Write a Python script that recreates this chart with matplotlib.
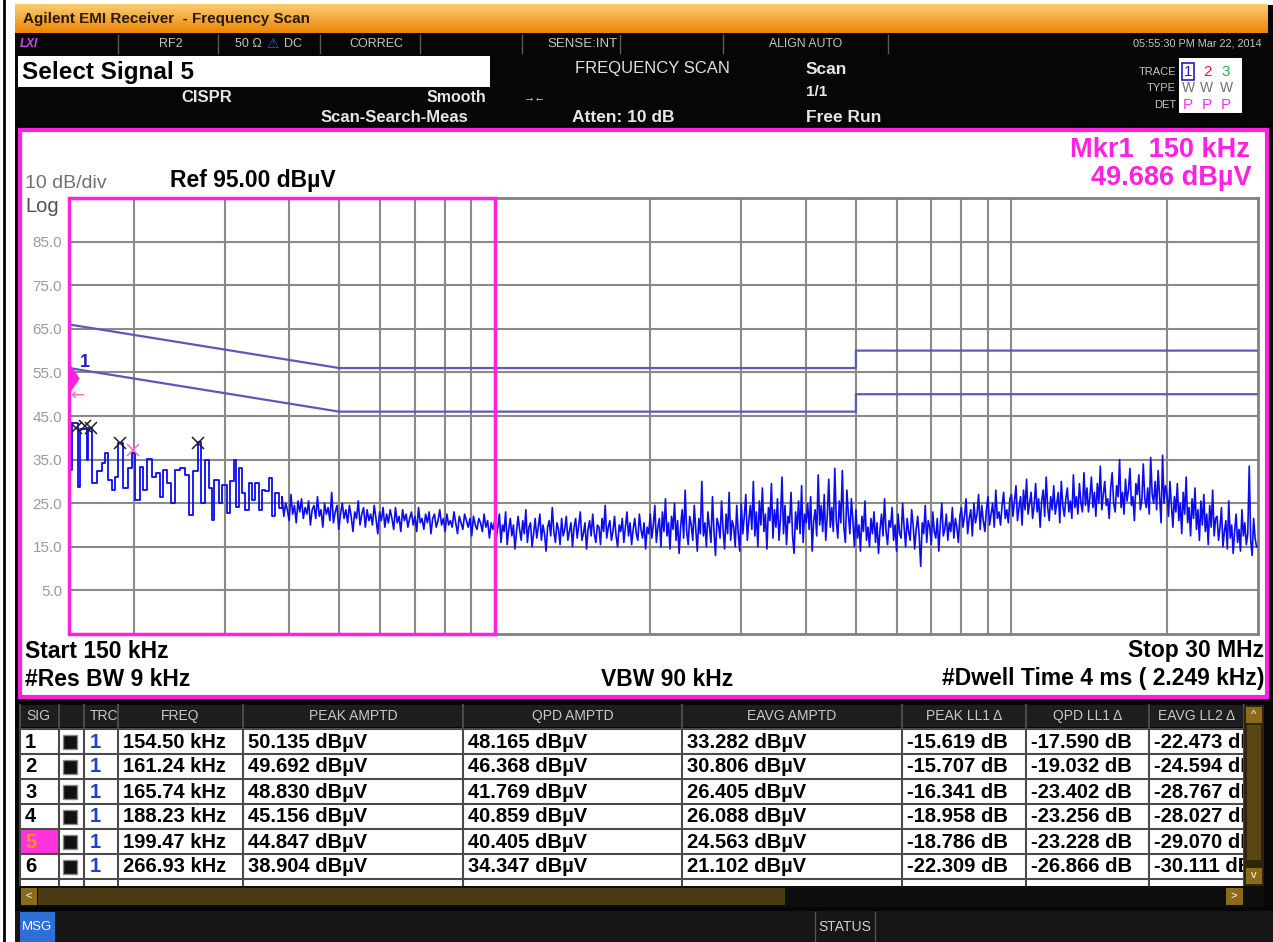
import numpy as np
import matplotlib.pyplot as plt
from matplotlib.patches import Rectangle
from matplotlib.ticker import FixedLocator, NullLocator, NullFormatter

plt.rcParams['font.family'] = ['Liberation Sans', 'DejaVu Sans']

# ---- sweep / display settings ----
start_mhz = 0.15
stop_mhz = 30.0
ref_dbuv = 95.0
bottom_dbuv = -5.0
y_tick_values = [85, 75, 65, 55, 45, 35, 25, 15, 5]
x_grid_mhz = [0.2, 0.3, 0.4, 0.5, 0.6, 0.7, 0.8, 0.9, 1, 2, 3, 4, 5, 6, 7, 8, 9, 10, 20]
zoom_box_mhz = [0.15, 1.0]

# CISPR 22 class B limit lines (QP and average)
limit_mhz = [0.15, 0.5, 5.0, 5.0, 30.0]
qp_limit_dbuv = [66, 56, 56, 60, 60]
avg_limit_dbuv = [56, 46, 46, 50, 50]

# trace 1, low band steps
lf_khz = [150.0, 150.7, 151.8, 156.3, 157.5, 162.2, 163.4, 166.0, 169.7, 173.6,
          176.1, 178.8, 181.5, 184.2, 186.9, 191.1, 195.5, 198.4, 201.4, 206.0,
          209.0, 212.2, 217.5, 220.9, 225.1, 228.5, 232.0, 236.5, 240.7, 246.2,
          251.7, 255.5, 260.5, 266.4, 270.4, 275.2, 279.3, 283.6, 285.6, 292.1,
          296.5, 303.2, 307.7, 312.3, 315.6, 319.3, 324.2, 329.0, 333.9, 339.1,
          344.1, 349.2, 354.5, 359.8, 365.1, 370.7, 376.2, 381.8]
lf_dbuv = [49.7, 32.6, 43.3, 28.8, 42.0, 35.0, 42.2, 29.6, 32.3, 34.2,
           36.5, 30.3, 28.0, 31.1, 38.8, 28.4, 33.0, 36.5, 25.8, 33.4,
           28.0, 35.1, 31.1, 31.9, 26.5, 32.6, 29.6, 25.0, 32.6, 33.0,
           31.5, 22.3, 32.3, 39.1, 25.0, 35.0, 28.4, 21.2, 30.3, 25.0,
           29.2, 22.7, 30.0, 35.0, 24.2, 33.0, 27.3, 23.5, 29.6, 25.8,
           29.6, 23.5, 28.0, 27.7, 30.7, 22.0, 27.3, 24.0]

# trace 1, dense part: one list per frequency band (values left to right)
band_edges_mhz = [0.3876, 1.0, 2.0, 3.0, 5.0, 8.0, 10.0, 14.0, 20.0, 25.0, 30.0]
band_0388_1 = [26.5, 22.0, 25.0, 23.5, 21.0, 27.0, 22.5, 24.5, 20.5, 25.5,
               23.0, 26.0, 21.5, 24.0, 22.5, 25.5, 20.0, 23.5, 24.5, 21.5,
               26.5, 22.0, 23.5, 19.5, 25.0, 22.5, 24.0, 21.0, 27.5, 20.5,
               23.0, 24.5, 19.0, 22.5, 25.0, 21.5, 23.5, 20.5, 24.5, 22.0,
               18.5, 23.0, 21.5, 25.5, 20.0, 22.5, 24.0, 19.5, 23.5, 21.0,
               22.5, 20.0, 24.5, 21.5, 18.0, 23.0, 21.0, 24.0, 19.5, 22.5,
               20.5, 23.5, 21.5, 19.0, 24.0, 20.5, 22.0, 18.5, 23.5, 21.0,
               22.5, 19.5, 21.5, 23.0, 20.0, 22.0, 18.5, 24.0, 20.5, 21.5,
               19.0, 22.5, 20.5, 23.0, 18.0, 21.5, 22.5, 19.5, 21.0, 23.5,
               20.0, 21.5, 18.5, 22.5, 20.0, 21.0, 19.5, 23.0, 20.5, 18.0,
               22.0, 20.5, 19.0, 22.5, 21.0, 19.5, 21.5, 17.5, 22.0, 20.0,
               19.0, 21.5, 20.5, 18.5, 22.5, 19.5, 21.0, 17.0, 20.5, 19.0]
band_1_2 = [21.0, 17.0, 19.5, 22.5, 16.0, 20.0, 18.5, 23.0, 15.5, 19.0,
            21.5, 17.5, 20.0, 14.5, 18.5, 22.0, 19.0, 16.5, 21.0, 18.0,
            23.5, 16.0, 19.5, 20.5, 15.0, 18.0, 21.5, 17.0, 19.5, 22.5,
            16.5, 20.0, 18.0, 14.0, 19.5, 21.0, 17.5, 24.0, 18.5, 16.0,
            20.5, 19.0, 15.5, 21.5, 17.5, 19.0, 22.0, 16.5, 18.5, 20.5,
            15.0, 19.5, 21.5, 17.0, 20.0, 23.0, 16.5, 18.0, 20.5, 14.5,
            19.0, 21.0, 17.5, 22.5, 18.0, 16.0, 20.0, 19.5, 15.5, 21.5,
            18.5, 24.5, 17.0, 19.5, 21.0, 16.5, 18.5, 22.0, 17.5, 15.0,
            20.0, 18.5, 21.5, 16.0, 19.5, 23.0, 17.5, 20.5, 15.5, 19.0,
            21.5, 18.0, 16.5, 22.5, 19.0, 17.0, 20.5, 14.5, 19.5, 18.0]
band_2_3 = [22.5, 17.0, 20.0, 24.5, 16.0, 19.5, 21.5, 15.0, 23.0, 18.5,
            26.0, 17.5, 20.5, 14.5, 22.0, 19.0, 25.0, 16.5, 21.0, 13.5,
            19.5, 23.5, 17.0, 28.0, 18.5, 15.5, 22.0, 20.0, 16.5, 24.5,
            19.0, 14.0, 21.5, 18.0, 30.0, 17.5, 20.5, 15.0, 23.0, 19.5,
            16.0, 26.5, 18.5, 13.0, 21.5, 20.0, 17.0, 25.5, 19.0, 14.5,
            22.5, 18.0, 27.5, 16.5, 21.0, 19.5, 15.0, 24.5, 18.0, 14.0]
band_3_5 = [25.0, 18.0, 22.0, 27.0, 16.5, 21.0, 24.5, 19.0, 30.0, 17.5,
            23.0, 15.0, 25.5, 20.0, 28.5, 18.5, 22.5, 14.5, 24.0, 21.0,
            29.5, 17.0, 23.5, 19.5, 26.0, 16.5, 21.5, 31.0, 18.0, 24.5,
            15.5, 22.0, 20.5, 27.5, 17.5, 13.5, 23.0, 19.0, 25.5, 18.0,
            29.0, 16.0, 22.5, 20.5, 25.0, 19.0, 26.5, 14.0, 21.0, 23.5,
            17.5, 31.5, 20.0, 24.5, 18.5, 27.0, 16.5, 22.0, 30.5, 19.5,
            24.0, 18.5, 33.0, 21.0, 17.0, 25.5, 20.5, 32.5, 19.5, 16.0,
            28.0, 22.5, 18.0, 26.0, 21.0, 15.0]
band_5_8 = [23.5, 17.0, 20.0, 14.0, 22.0, 18.5, 25.5, 16.5, 19.5, 15.0,
            21.5, 18.0, 23.0, 16.0, 20.5, 13.5, 19.0, 22.5, 17.5, 26.0,
            18.5, 15.5, 21.0, 19.5, 24.0, 16.5, 20.0, 14.0, 22.5, 18.0,
            17.0, 25.0, 19.5, 15.0, 21.5, 18.5, 16.5, 23.5, 20.0, 14.5,
            19.0, 22.0, 17.5, 10.5, 20.5, 18.0, 24.5, 16.0, 21.0, 19.5,
            15.5, 23.0, 18.5, 17.0, 21.5, 14.0, 20.0, 25.0, 17.5, 19.0,
            22.5, 16.5, 20.5, 18.5, 24.0, 17.0, 21.5, 19.5, 16.0, 22.0]
band_8_10 = [24.0, 19.5, 22.0, 26.0, 18.0, 21.5, 23.5, 17.5, 25.0, 20.5,
             22.5, 27.0, 19.0, 24.5, 21.0, 18.5, 23.5, 26.5, 20.0, 22.5,
             25.0, 19.5, 28.0, 21.5, 23.0, 20.0, 24.5, 27.5, 21.5, 23.5,
             20.5, 26.0]
band_10_14 = [27.0, 22.0, 25.5, 29.0, 21.0, 24.0, 26.5, 20.0, 28.0, 23.5,
              30.5, 22.5, 25.0, 27.5, 21.5, 24.5, 29.5, 23.0, 26.0, 19.5,
              25.5, 28.0, 22.0, 31.0, 24.0, 21.0, 26.5, 23.5, 29.0, 22.5,
              25.0, 27.5, 20.5, 30.0, 24.5, 22.0, 26.0, 28.5, 23.0, 25.5,
              21.5, 31.5, 24.0, 26.5, 22.5, 29.5, 25.0, 23.0, 32.0, 24.5]
band_14_20 = [28.5, 23.0, 26.5, 31.0, 24.0, 27.5, 22.0, 29.5, 25.0, 33.5,
              23.5, 27.0, 30.0, 24.5, 26.0, 21.5, 28.5, 32.0, 25.0, 23.0,
              29.0, 26.5, 35.0, 24.0, 27.5, 22.5, 30.5, 25.5, 28.0, 33.0,
              24.5, 26.5, 21.0, 29.5, 27.0, 31.5, 23.5, 25.5, 34.0, 26.0,
              24.0, 28.5, 22.5, 35.5, 27.0, 25.0, 30.0, 23.5, 32.5, 26.5,
              20.5, 36.0, 25.0, 29.0]
band_20_25 = [27.0, 22.0, 30.0, 24.5, 19.5, 26.5, 23.0, 29.5, 21.0, 25.0,
              18.0, 27.5, 22.5, 31.0, 20.5, 24.0, 17.5, 26.0, 21.5, 28.5,
              19.0, 23.5, 16.5, 25.5, 20.0, 27.0, 18.5, 22.5, 15.5, 24.5,
              19.5, 28.0, 17.5, 21.5]
band_25_30 = [22.0, 16.5, 19.5, 24.0, 15.0, 18.5, 21.0, 14.5, 25.5, 17.0,
              20.0, 13.5, 18.5, 22.5, 16.0, 19.0, 14.0, 23.5, 17.5, 20.5,
              15.5, 18.0, 33.5, 16.5, 13.0, 21.5, 17.0, 15.0]

# marker / signal list
marker1_mhz = 0.15
marker1_dbuv = 49.686
sig_ids = ['1', '2', '3', '4', '5', '6']
sig_khz = [154.50, 161.24, 165.74, 188.23, 199.47, 266.93]
sig_on_trace_dbuv = [42.2, 42.7, 42.2, 38.8, 37.2, 38.8]
selected_sig = 5
freq_col = ['154.50 kHz', '161.24 kHz', '165.74 kHz', '188.23 kHz', '199.47 kHz', '266.93 kHz']
peak_col = ['50.135 dBµV', '49.692 dBµV', '48.830 dBµV', '45.156 dBµV', '44.847 dBµV', '38.904 dBµV']
qpd_col = ['48.165 dBµV', '46.368 dBµV', '41.769 dBµV', '40.859 dBµV', '40.405 dBµV', '34.347 dBµV']
eavg_col = ['33.282 dBµV', '30.806 dBµV', '26.405 dBµV', '26.088 dBµV', '24.563 dBµV', '21.102 dBµV']
peak_ll1_col = ['-15.619 dB', '-15.707 dB', '-16.341 dB', '-18.958 dB', '-18.786 dB', '-22.309 dB']
qpd_ll1_col = ['-17.590 dB', '-19.032 dB', '-23.402 dB', '-23.256 dB', '-23.228 dB', '-26.866 dB']
eavg_ll2_col = ['-22.473 dB', '-24.594 dB', '-28.767 dB', '-28.027 dB', '-29.070 dB', '-30.111 dB']
header_labels = ['SIG', '', 'TRC', 'FREQ', 'PEAK AMPTD', 'QPD AMPTD', 'EAVG AMPTD',
                 'PEAK LL1 Δ', 'QPD LL1 Δ', 'EAVG LL2 Δ']

W, H = 1273, 942
fig = plt.figure(figsize=(W / 100, H / 100), dpi=100)
fig.patch.set_facecolor('white')

# background axes in pixel units for the instrument frame
bg = fig.add_axes([0, 0, 1, 1])
bg.set_xlim(0, W)
bg.set_ylim(H, 0)
bg.axis('off')


def box(x0, y0, x1, y1, fc, ec='none', lw=0, z=1):
    bg.add_patch(Rectangle((x0, y0), x1 - x0, y1 - y0, facecolor=fc,
                           edgecolor=ec, lw=lw, zorder=z))


def txt(x, y, s, size, color, ha='left', weight='normal', z=3, **kw):
    bg.text(x, y, s, fontsize=size, color=color, ha=ha, va='center',
            fontweight=weight, zorder=z, **kw)


bg.plot([4, 4], [0, H], color='black', lw=2)
box(15, 5, W, H, '#060606')

# title bar with orange gradient
grad = np.linspace(0, 1, 40)[:, None]
top_c = np.array([0.98, 0.80, 0.45])
bot_c = np.array([0.93, 0.52, 0.02])
img = (top_c * (1 - grad) + bot_c * grad)[:, None, :].repeat(2, axis=1)
bg.imshow(img, extent=(15, 1268, 33, 4), aspect='auto', zorder=2)
txt(23, 19, 'Agilent EMI Receiver  - Frequency Scan', 11, '#2a1a05', weight='bold')

# status row
for sx in [118, 218, 320, 420, 522, 620, 723, 888]:
    bg.plot([sx, sx], [35, 53], color='#5a5a5a', lw=1, zorder=3)
txt(20, 44, 'LXI', 8.5, '#d040ff', weight='bold', style='italic')
gray = '#c4c4c4'
txt(171, 44, 'RF2', 9, gray, ha='center')
txt(235, 44, '50 Ω', 9, gray)
txt(266, 44, '⚠', 10, '#2f5bff')
txt(284, 44, 'DC', 9, gray)
txt(376, 44, 'CORREC', 9, gray, ha='center')
txt(582, 44, 'SENSE:INT', 9.5, gray, ha='center')
txt(806, 44, 'ALIGN AUTO', 8.8, gray, ha='center')
txt(1262, 44, '05:55:30 PM Mar 22, 2014', 7.8, gray, ha='right')

box(18, 56, 490, 87, 'white', z=2)
txt(22, 72, 'Select Signal 5', 17.5, 'black', weight='bold')
fg = '#e6e6e6'
txt(207, 97, 'CISPR', 12, fg, ha='center', weight='bold')
txt(486, 97, 'Smooth', 11.5, fg, ha='right', weight='bold')
txt(394, 118, 'Scan-Search-Meas', 12, fg, ha='center', weight='bold')
txt(535, 97, '→←', 8, fg, ha='center')
txt(652, 69, 'FREQUENCY SCAN', 12, '#e0e0e0', ha='center')
txt(572, 117, 'Atten: 10 dB', 12.5, fg, weight='bold')
txt(806, 69, 'Scan', 12.5, fg, weight='bold')
txt(806, 92, '1/1', 11, fg, weight='bold')
txt(806, 117, 'Free Run', 12.5, fg, weight='bold')

# trace legend box
box(1179, 58, 1242, 113, 'white', z=2)
txt(1176, 72, 'TRACE', 8, gray, ha='right')
txt(1176, 88, 'TYPE', 8, gray, ha='right')
txt(1176, 105, 'DET', 8, gray, ha='right')
box(1182, 63, 1194, 80, 'none', ec='#2020c0', lw=1.2, z=3)
for i, c in enumerate(['#2020c0', '#e02020', '#20c040']):
    txt(1188 + 19 * i, 72, str(i + 1), 11, c, ha='center')
    txt(1188 + 19 * i, 88, 'W', 10, '#707070', ha='center')
    txt(1188 + 19 * i, 105, 'P', 11, '#ff30e0', ha='center')

# graph panel
mag = '#ff20e0'
box(20, 130, 1267, 697, 'white', ec=mag, lw=3, z=1)
txt(1250, 150, 'Mkr1  150 kHz', 19.5, mag, ha='right', weight='bold')
txt(1252, 178, '49.686 dBµV', 19.5, mag, ha='right', weight='bold')
txt(25, 183, '10 dB/div', 14, '#707070')
txt(25, 206, 'Log', 14.5, '#505050')
txt(170, 181, 'Ref 95.00 dBµV', 16.5, 'black', weight='bold')
txt(25, 651, 'Start 150 kHz', 16.5, 'black', weight='bold')
txt(25, 679, '#Res BW 9 kHz', 16.5, 'black', weight='bold')
txt(667, 679, 'VBW 90 kHz', 16.5, 'black', ha='center', weight='bold')
txt(1264, 651, 'Stop 30 MHz', 16.5, 'black', ha='right', weight='bold')
txt(1264, 679, '#Dwell Time 4 ms ( 2.249 kHz)', 16.5, 'black', ha='right', weight='bold')

# signal table
col_x = [20, 59, 84, 118, 243, 463, 682, 902, 1026, 1149, 1244]
box(20, 705, 1244, 727, '#1e1e1e', z=2)
for cx in col_x:
    bg.plot([cx, cx], [705, 885], color='#4a4a4a', lw=1.5, zorder=4)
for i, lab in enumerate(header_labels):
    if not lab:
        continue
    if i in (0, 2):
        txt(col_x[i] + 6, 716, lab, 10, '#c8c8c8')
    else:
        txt((col_x[i] + col_x[i + 1]) / 2, 716, lab, 10, '#c8c8c8', ha='center')
row_h = 25
row_top = 729
box(20, row_top, 1244, 886, 'white', z=2)
bg.plot([20, 1244], [row_top, row_top], color='#4a4a4a', lw=1.5, zorder=4)
columns = [freq_col, peak_col, qpd_col, eavg_col, peak_ll1_col, qpd_ll1_col, eavg_ll2_col]
for r in range(6):
    y0 = row_top + r * row_h
    yc = y0 + row_h / 2 + 0.5
    bg.plot([20, 1244], [y0 + row_h, y0 + row_h], color='#4a4a4a', lw=1.5, zorder=4)
    if r + 1 == selected_sig:
        box(21, y0 + 1, 59, y0 + row_h - 1, '#ff33dd', z=3)
        txt(25, yc, sig_ids[r], 14.5, '#ff9020', weight='bold')
    else:
        txt(25, yc, sig_ids[r], 14.5, 'black', weight='bold')
    box(63, yc - 7, 77, yc + 7, '#111111', ec='#888888', lw=1, z=3)
    txt(90, yc, '1', 14.5, '#1f3fd0', weight='bold')
    for ci, col in enumerate(columns):
        txt(col_x[ci + 3] + 5, yc, col[r], 14.5, 'black', weight='bold', z=3)

# scroll bars
box(1244, 705, 1264, 886, '#2e250c', z=5)
box(1246, 707, 1262, 723, '#8b6b1a', z=6)
txt(1254, 715, '^', 8, 'white', ha='center', z=7)
box(1246, 868, 1262, 884, '#8b6b1a', z=6)
txt(1254, 875, 'v', 8, 'white', ha='center', z=7)
box(1247, 725, 1261, 860, '#5a4612', z=6)
box(20, 886, 1264, 907, '#0d0d0d', z=5)
box(38, 888, 785, 905, '#4a3a12', z=6)
box(21, 888, 37, 905, '#8b6b1a', z=6)
txt(29, 896, '<', 8, 'white', ha='center', z=7)
box(1226, 888, 1243, 905, '#8b6b1a', z=6)
txt(1234, 896, '>', 8, 'white', ha='center', z=7)

# message bar
box(15, 911, W, H, '#161616', z=2)
box(20, 912, 55, H, '#2c6fd8', z=3)
txt(37, 927, 'MSG', 9.5, 'white', ha='center', z=4)
bg.plot([815, 815], [912, H], color='#555555', lw=1, zorder=3)
bg.plot([875, 875], [912, H], color='#555555', lw=1, zorder=3)
txt(845, 927, 'STATUS', 10, '#d0d0d0', ha='center', z=4)

# ---- the spectrum plot ----
px0, px1, py0, py1 = 69, 1258, 198, 634
ax = fig.add_axes([px0 / W, 1 - py1 / H, (px1 - px0) / W, (py1 - py0) / H])
ax.set_facecolor('white')
ax.set_xscale('log')
ax.set_xlim(start_mhz, stop_mhz)
ax.set_ylim(bottom_dbuv, ref_dbuv)
ax.xaxis.set_major_locator(FixedLocator(x_grid_mhz))
ax.xaxis.set_major_formatter(NullFormatter())
ax.xaxis.set_minor_locator(NullLocator())
ax.set_yticks(y_tick_values)
ax.set_yticklabels([f'{v:.1f}' for v in y_tick_values])
ax.tick_params(axis='both', length=0, labelsize=11, labelcolor='#9a9a9a', pad=5)
ax.grid(True, color='#8a8a8a', lw=1.5)
ax.set_axisbelow(True)
for s in ax.spines.values():
    s.set_color('#808080')
    s.set_linewidth(2)

bands = [band_0388_1, band_1_2, band_2_3, band_3_5, band_5_8, band_8_10,
         band_10_14, band_14_20, band_20_25, band_25_30]
band_f = []
for lo, hi, vals in zip(band_edges_mhz[:-1], band_edges_mhz[1:], bands):
    band_f.append(np.geomspace(lo, hi, len(vals), endpoint=False))
band_f = np.concatenate(band_f + [[stop_mhz]])
band_d = np.concatenate([np.array(v) for v in bands] + [[band_25_30[-1]]])
lf_f = np.array(lf_khz + [band_edges_mhz[0] * 1000]) / 1000.0
lf_d = np.array(lf_dbuv + [lf_dbuv[-1]])

trace_c = '#0c0cee'
ax.plot(limit_mhz, qp_limit_dbuv, color='#5a5ab8', lw=1.6, zorder=3)
ax.plot(limit_mhz, avg_limit_dbuv, color='#5a5ab8', lw=1.6, zorder=3)
ax.plot(lf_f, lf_d, drawstyle='steps-post', color=trace_c, lw=1.3, zorder=4)
ax.plot(np.r_[lf_f[-1], band_f], np.r_[lf_d[-1], band_d], color=trace_c, lw=1.2, zorder=4)

# peak markers on the signals
for i, (fk, d) in enumerate(zip(sig_khz, sig_on_trace_dbuv)):
    c = '#ff66cc' if i + 1 == selected_sig else '#202020'
    ax.plot(fk / 1000.0, d, marker='x', ms=8, mew=1.1, color=c, zorder=6)

# marker 1 symbol
tri = [(0, -1.5), (1, 0), (0, 1.5), (0, -1.5)]
ax.plot(marker1_mhz, marker1_dbuv + 4.0, marker=tri, ms=22, color=mag,
        mec='none', zorder=7, clip_on=False)
ax.text(0.1575, marker1_dbuv + 7.5, '1', color='#2020c0', fontsize=13,
        fontweight='bold', va='center', zorder=7)
ax.text(0.1508, marker1_dbuv, '←', color='#ff66cc', fontsize=12,
        va='center', zorder=7, family=['DejaVu Sans'])

# zoom region box
ax.add_patch(Rectangle((zoom_box_mhz[0], bottom_dbuv), zoom_box_mhz[1] - zoom_box_mhz[0],
                       ref_dbuv - bottom_dbuv, fill=False, edgecolor=mag,
                       lw=2.5, zorder=8, clip_on=False))

fig.savefig('out.png', dpi=100)
